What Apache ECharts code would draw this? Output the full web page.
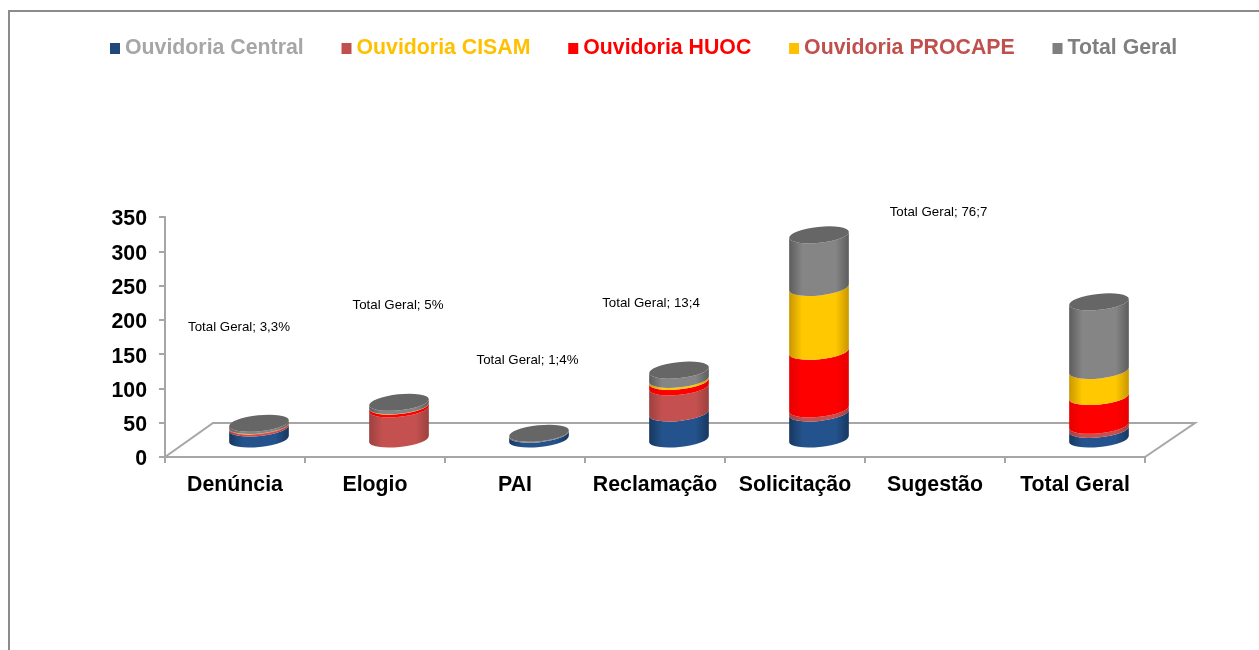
<!DOCTYPE html>
<html>
<head>
<meta charset="utf-8">
<title>Ouvidoria</title>
<script src="https://cdn.jsdelivr.net/npm/echarts@6/dist/echarts.min.js"></script>
<style>
html, body { margin: 0; padding: 0; background: #fff; }
#chart { width: 1259px; height: 650px; }
</style>
</head>
<body>
<div id="chart"></div>
<script>
const categories = ['Denúncia', 'Elogio', 'PAI', 'Reclamação', 'Solicitação', 'Sugestão', 'Total Geral'];
const seriesNames = ['Ouvidoria Central', 'Ouvidoria CISAM', 'Ouvidoria HUOC', 'Ouvidoria PROCAPE', 'Total Geral'];

const central = [16, 0, 7, 38, 38, 0, 14];
const cisam = [2.5, 44, 0, 38, 6, 0, 6];
const huoc = [0.7, 4, 0, 8, 84, 0, 42];
const procape = [0.5, 0.5, 0, 3, 93, 0, 38];
const totalGeral = [3.3, 5, 1.4, 13.4, 76.7, 0, 100];

const labelTexts = ['Total Geral; 3,3%', 'Total Geral; 5%', 'Total Geral; 1;4%', 'Total Geral; 13;4', 'Total Geral; 76;7'];
const labelAnchors = [[239, 327], [398, 305], [527.5, 360], [651, 303], [938.5, 212]];

const seriesValues = [central, cisam, huoc, procape, totalGeral];
const legendColors = ['#1f497d', '#c0504d', '#ff0000', '#ffc000', '#7f7f7f'];
const legendText = ['#a6a6a6', '#ffc000', '#ff0000', '#c0504d', '#7f7f7f'];
const bodyEdge = ['#17375e', '#9c4040', '#e60000', '#c89600', '#5c5c5c'];
const bodyMid = ['#24528c', '#c4514f', '#ff0000', '#ffc800', '#858585'];

const fontName = '"Liberation Sans", Arial, sans-serif';
const axisColor = '#a6a6a6';
const depthX = 48, depthY = 34;   // floor depth
const shiftX = 24, liftY = 18;    // bar centre sits mid floor
const rx = 30, ry = 8, tiltDeg = -6;
const dx = rx * Math.cos(tiltDeg * Math.PI / 180), dy = rx * Math.sin(tiltDeg * Math.PI / 180);

function stackBase(s, i) {
  let sum = 0;
  for (let k = 0; k < s; k++) sum += seriesValues[k][i];
  return sum;
}

function renderSegment(s) {
  return function (params, api) {
    const i = params.dataIndex;
    const v = seriesValues[s][i];
    if (!v) return null;
    const base = stackBase(s, i);
    const cx = api.coord([i, 0])[0] + shiftX;
    const y0 = api.coord([i, base])[1] - liftY;
    const y1 = api.coord([i, base + v])[1] - liftY;
    const arc = 'A' + rx + ' ' + ry + ' ' + tiltDeg + ' 0 ';
    const body = 'M' + (cx - dx) + ' ' + (y1 - dy) +
      arc + '0 ' + (cx + dx) + ' ' + (y1 + dy) +
      'L' + (cx + dx) + ' ' + (y0 + dy) +
      arc + '1 ' + (cx - dx) + ' ' + (y0 - dy) + 'Z';
    const children = [{
      type: 'path',
      shape: { pathData: body },
      style: {
        fill: {
          type: 'linear', x: 0, y: 0, x2: 1, y2: 0,
          colorStops: [
            { offset: 0, color: bodyEdge[s] },
            { offset: 0.22, color: bodyMid[s] },
            { offset: 0.78, color: bodyMid[s] },
            { offset: 1, color: bodyEdge[s] }
          ]
        }
      }
    }];
    if (s === seriesValues.length - 1) {
      const cap = 'M' + (cx - dx) + ' ' + (y1 - dy) +
        arc + '0 ' + (cx + dx) + ' ' + (y1 + dy) +
        arc + '0 ' + (cx - dx) + ' ' + (y1 - dy) + 'Z';
      children.push({ type: 'path', shape: { pathData: cap }, style: { fill: '#666666' } });
    }
    return { type: 'group', children: children };
  };
}

function renderFloor(params, api) {
  const c = params.coordSys;
  const left = c.x, right = c.x + c.width, bottom = c.y + c.height;
  return {
    type: 'polyline',
    shape: { points: [[left, bottom], [left + depthX, bottom - depthY], [right + depthX + 2, bottom - depthY], [right, bottom]] },
    style: { fill: null, stroke: axisColor, lineWidth: 2 }
  };
}

const series = [{
  type: 'custom',
  name: 'floor',
  data: [0],
  encode: { x: -1, y: -1 },
  silent: true,
  renderItem: renderFloor
}];
seriesNames.forEach(function (name, s) {
  series.push({
    type: 'custom',
    name: name,
    itemStyle: { color: legendColors[s] },
    encode: { x: 0, y: 1 },
    data: categories.map(function (c, i) { return [i, stackBase(s, i) + seriesValues[s][i]]; }),
    renderItem: renderSegment(s)
  });
});

const chart = echarts.init(document.getElementById('chart'), null, { renderer: 'canvas' });
chart.setOption({
  backgroundColor: '#ffffff',
  animation: false,
  textStyle: { fontFamily: fontName },
  legend: {
    left: 110,
    top: 38,
    padding: 0,
    itemWidth: 10,
    itemHeight: 11,
    itemGap: 37.8,
    icon: 'rect',
    selectedMode: false,
    data: seriesNames.map(function (name, s) {
      return { name: name, textStyle: { color: legendText[s], fontSize: 21.3, fontWeight: 'bold', fontFamily: fontName } };
    })
  },
  grid: { left: 165, right: 114, top: 217, bottom: 193, containLabel: false },
  xAxis: {
    type: 'category',
    data: categories,
    axisLine: { lineStyle: { color: axisColor, width: 2 } },
    axisTick: { show: true, alignWithLabel: false, length: 6, lineStyle: { color: axisColor, width: 2 } },
    axisLabel: { color: '#000', fontSize: 21.3, fontWeight: 'bold', fontFamily: fontName, margin: 18, interval: 0 }
  },
  yAxis: {
    type: 'value',
    min: 0,
    max: 350,
    interval: 50,
    splitLine: { show: false },
    axisLine: { show: true, lineStyle: { color: axisColor, width: 2 } },
    axisTick: { show: true, length: 6, lineStyle: { color: axisColor, width: 2 } },
    axisLabel: {
      margin: 18,
      formatter: '{v|{value}}',
      rich: { v: { color: '#000', fontSize: 21.3, fontWeight: 'bold', fontFamily: fontName, padding: [5, 0, 0, 0] } }
    }
  },
  graphic: labelTexts.map(function (t, i) {
    return {
      type: 'text',
      x: labelAnchors[i][0],
      y: labelAnchors[i][1],
      style: { text: t, fill: '#000', fontSize: 13.3, align: 'center', verticalAlign: 'middle', fontFamily: fontName }
    };
  }).concat([
    { type: 'polyline', shape: { points: [[9, 650], [9, 11], [1259, 11]] }, style: { fill: null, stroke: '#8c8c8c', lineWidth: 2 } }
  ]),
  series: series
});
</script>
</body>
</html>
